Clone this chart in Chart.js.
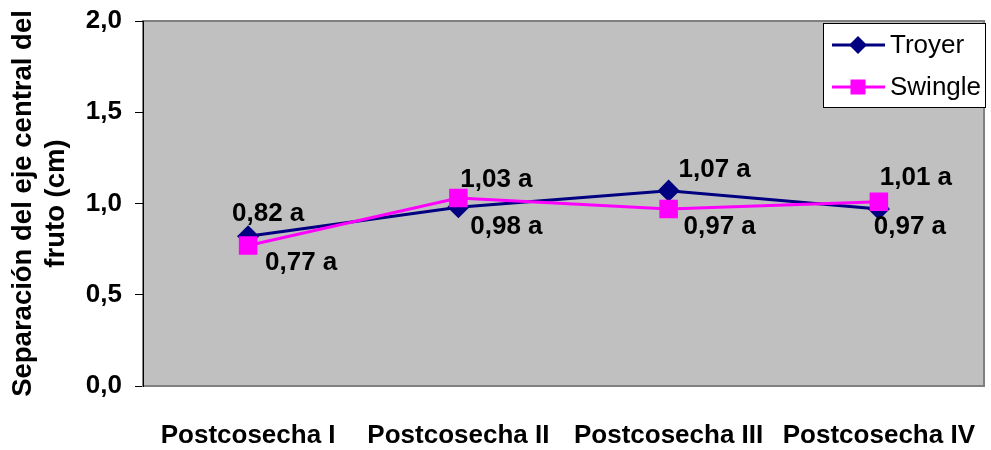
<!DOCTYPE html>
<html>
<head>
<meta charset="utf-8">
<script src="https://cdn.jsdelivr.net/npm/chart.js@4.4.1/dist/chart.umd.min.js"></script>
<style>
  html, body { margin: 0; padding: 0; background: #fff; }
  #wrap { width: 991px; height: 450px; position: relative; }
</style>
</head>
<body>
<div id="wrap"><canvas id="c"></canvas></div>
<script>
// ---- data ----
const categories = ["Postcosecha I", "Postcosecha II", "Postcosecha III", "Postcosecha IV"];
const troyer = [0.82, 0.98, 1.07, 0.97];
const swingle = [0.77, 1.03, 0.97, 1.01];
const troyerLetters = ["a", "a", "a", "a"];
const swingleLetters = ["a", "a", "a", "a"];
const yTicks = [0, 0.5, 1.0, 1.5, 2.0];
const yTitle = ["Separación del eje central del", "fruto (cm)"];

// ---- label placement (pixel offsets from the point, kept apart from data) ----
const troyerLabelOffsets = [[20, -23], [48, 20], [46, -21], [31, 18]];
const swingleLabelOffsets = [[53, 17], [38, -18], [51, 18], [37, -24]];

const FONT = '"Liberation Sans", Arial, sans-serif';
const fmt = v => v.toFixed(2).replace('.', ',');

const plotBg = {
  id: 'plotBg',
  beforeDraw(chart) {
    const {ctx, chartArea: a} = chart;
    ctx.save();
    ctx.fillStyle = '#C0C0C0';
    ctx.fillRect(a.left, a.top, a.right - a.left, a.bottom - a.top);
    ctx.strokeStyle = '#808080';
    ctx.lineWidth = 2;
    ctx.strokeRect(a.left, a.top, a.right - a.left, a.bottom - a.top);
    ctx.restore();
  }
};

const dataLabels = {
  id: 'dataLabels',
  afterDatasetsDraw(chart) {
    const {ctx} = chart;
    ctx.save();
    ctx.font = 'bold 26px ' + FONT;
    ctx.fillStyle = '#000';
    ctx.textAlign = 'center';
    ctx.textBaseline = 'middle';
    chart.data.datasets.forEach((ds, di) => {
      const meta = chart.getDatasetMeta(di);
      meta.data.forEach((pt, i) => {
        const off = ds.labelOffsets[i];
        ctx.fillText(fmt(ds.data[i]) + ' ' + ds.letters[i], pt.x + off[0], pt.y + off[1]);
      });
    });
    ctx.restore();
  }
};

const customLegend = {
  id: 'customLegend',
  afterDraw(chart) {
    const {ctx} = chart;
    const x = 823, y = 23, w = 162, h = 84;
    ctx.save();
    ctx.fillStyle = '#fff';
    ctx.fillRect(x, y, w, h);
    ctx.strokeStyle = '#000';
    ctx.lineWidth = 1;
    ctx.strokeRect(x + 0.5, y + 0.5, w, h);
    const rows = [45, 87];
    chart.data.datasets.forEach((ds, i) => {
      const cy = rows[i];
      ctx.strokeStyle = ds.borderColor;
      ctx.lineWidth = 3;
      ctx.beginPath();
      ctx.moveTo(832, cy);
      ctx.lineTo(885, cy);
      ctx.stroke();
      ctx.fillStyle = ds.pointBackgroundColor;
      ctx.beginPath();
      if (ds.pointStyle === 'rectRot') {
        const r = 9;
        ctx.moveTo(858, cy - r); ctx.lineTo(858 + r, cy); ctx.lineTo(858, cy + r); ctx.lineTo(858 - r, cy);
        ctx.closePath();
      } else {
        ctx.rect(858 - 7.5, cy - 7.5, 15, 15);
      }
      ctx.fill();
      ctx.fillStyle = '#000';
      ctx.font = '26px ' + FONT;
      ctx.textAlign = 'left';
      ctx.textBaseline = 'middle';
      ctx.fillText(ds.label, 890, cy + 1);
    });
    ctx.restore();
  }
};

new Chart(document.getElementById('c'), {
  type: 'line',
  data: {
    labels: categories,
    datasets: [
      {
        label: 'Troyer',
        data: troyer,
        letters: troyerLetters,
        labelOffsets: troyerLabelOffsets,
        borderColor: '#000080',
        backgroundColor: '#000080',
        pointBackgroundColor: '#000080',
        pointBorderColor: '#000080',
        pointStyle: 'rectRot',
        pointRadius: 9,
        pointHoverRadius: 9,
        borderWidth: 3,
        tension: 0,
        order: 2
      },
      {
        label: 'Swingle',
        data: swingle,
        letters: swingleLetters,
        labelOffsets: swingleLabelOffsets,
        borderColor: '#FF00FF',
        backgroundColor: '#FF00FF',
        pointBackgroundColor: '#FF00FF',
        pointBorderColor: '#FF00FF',
        pointStyle: 'rect',
        pointRadius: 11,
        pointHoverRadius: 11,
        borderWidth: 3,
        tension: 0,
        order: 1
      }
    ]
  },
  options: {
    responsive: true,
    maintainAspectRatio: false,
    animation: false,
    events: [],
    layout: { autoPadding: false, padding: { top: 21, right: 7, left: 0, bottom: 0 } },
    plugins: {
      legend: { display: false },
      tooltip: { enabled: false },
      title: { display: false }
    },
    scales: {
      x: {
        offset: true,
        grid: { display: false, drawTicks: false },
        border: { display: true, color: '#808080', width: 2 },
        ticks: {
          color: '#000',
          font: { family: FONT, size: 26, weight: 'bold' },
          padding: 34,
          maxRotation: 0,
          autoSkip: false
        },
        afterFit(scale) {
          scale.height = 64;
          scale.paddingLeft = 0; scale.paddingRight = 0;
        }
      },
      y: {
        min: 0,
        max: 2,
        afterBuildTicks(scale) { scale.ticks = yTicks.map(v => ({ value: v })); },
        grid: { drawOnChartArea: false, drawTicks: true, tickLength: 8, color: '#000', lineWidth: 1 },
        border: { display: true, color: '#000', width: 1 },
        ticks: {
          color: '#000',
          font: { family: FONT, size: 26, weight: 'bold' },
          padding: 13,
          callback: v => v.toFixed(1).replace('.', ',')
        },
        title: {
          display: true,
          text: yTitle,
          color: '#000',
          font: { family: FONT, size: 27.5, weight: 'bold', lineHeight: 1.2 },
          padding: { top: 7, bottom: 0 }
        },
        afterFit(scale) {
          scale.width = 143;
          scale.paddingTop = 0; scale.paddingBottom = 0;
        }
      }
    }
  },
  plugins: [plotBg, dataLabels, customLegend]
});
</script>
</body>
</html>
